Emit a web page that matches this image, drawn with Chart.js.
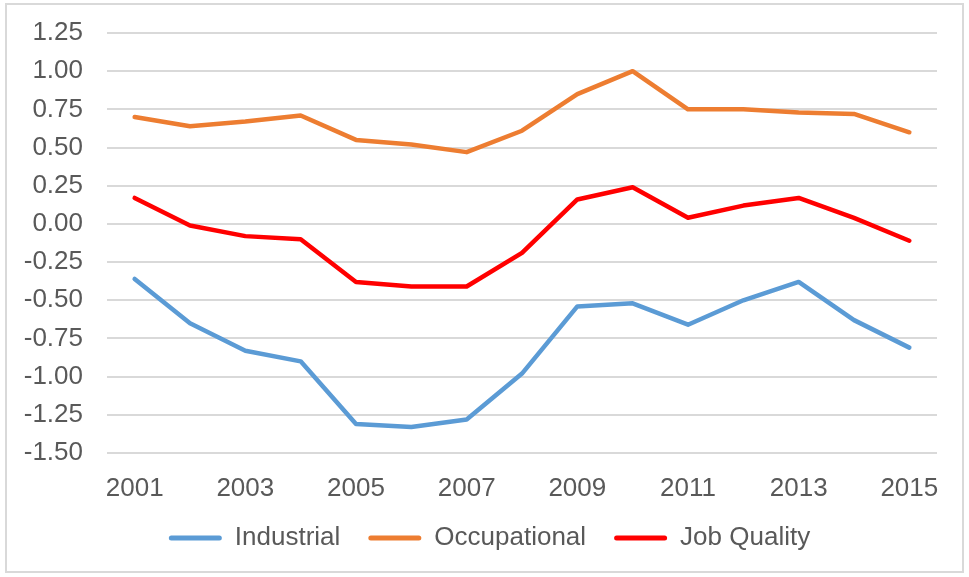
<!DOCTYPE html>
<html>
<head>
<meta charset="utf-8">
<script src="https://cdn.jsdelivr.net/npm/chart.js@4.4.1/dist/chart.umd.min.js"></script>
<style>
  html, body { margin: 0; padding: 0; background: #ffffff; }
  #wrap { position: relative; width: 969px; height: 577px; }
  #frame { position: absolute; left: 5px; top: 3px; width: 959px; height: 570px; border: 2px solid #d9d9d9; box-sizing: border-box; pointer-events: none; }
  canvas { position: absolute; left: 0; top: 0; }
</style>
</head>
<body>
<div id="wrap">
  <canvas id="c" width="969" height="577"></canvas>
  <div id="frame"></div>
</div>
<script>
const years = ['2001','2002','2003','2004','2005','2006','2007','2008','2009','2010','2011','2012','2013','2014','2015'];
const industrial   = [-0.36, -0.65, -0.83, -0.90, -1.31, -1.33, -1.28, -0.98, -0.54, -0.52, -0.66, -0.50, -0.38, -0.63, -0.81];
const occupational = [0.70, 0.64, 0.67, 0.71, 0.55, 0.52, 0.47, 0.61, 0.85, 1.00, 0.75, 0.75, 0.73, 0.72, 0.60];
const jobQuality   = [0.17, -0.01, -0.08, -0.10, -0.38, -0.41, -0.41, -0.19, 0.16, 0.24, 0.04, 0.12, 0.17, 0.04, -0.11];
const yMin = -1.5, yMax = 1.25, yStep = 0.25;

const FONT = { family: '"Liberation Sans", Arial, sans-serif', size: 26 };
const TXT = '#595959';

function ds(label, data, color) {
  return {
    label, data,
    borderColor: color, backgroundColor: color,
    borderWidth: 4.5, pointRadius: 0, pointHoverRadius: 0,
    tension: 0, borderCapStyle: 'round', borderJoinStyle: 'round', fill: false
  };
}

const legendShift = {
  id: 'legendShift',
  afterLayout(chart) {
    if (chart.legend) { chart.legend.left += 21; chart.legend.right += 21; }
  }
};

new Chart(document.getElementById('c'), {
  type: 'line',
  data: {
    labels: years,
    datasets: [
      ds('Industrial', industrial, '#5B9BD5'),
      ds('Occupational', occupational, '#ED7D31'),
      ds('Job Quality', jobQuality, '#FF0000')
    ]
  },
  plugins: [legendShift],
  options: {
    responsive: false,
    animation: false,
    layout: { autoPadding: false, padding: { left: 0, right: 32, top: 33, bottom: 16 } },
    plugins: {
      tooltip: { enabled: false },
      legend: {
        position: 'bottom',
        labels: {
          font: FONT, color: TXT,
          boxWidth: 53, boxHeight: 5, padding: 28,
          useBorderRadius: true, borderRadius: 2.5,
          generateLabels(chart) {
            const items = Chart.defaults.plugins.legend.labels.generateLabels(chart);
            items.forEach(it => { it.lineWidth = 0; it.strokeStyle = 'rgba(0,0,0,0)'; });
            return items;
          }
        }
      }
    },
    scales: {
      x: {
        offset: true,
        grid: { display: false, drawTicks: false },
        border: { display: false },
        ticks: {
          font: FONT, color: TXT, padding: 20,
          autoSkip: false, maxRotation: 0,
          callback(v, i) { return i % 2 === 0 ? years[i] : ''; }
        },
        afterFit(scale) { scale.height = 44; }
      },
      y: {
        min: yMin, max: yMax,
        grid: { color: '#d9d9d9', lineWidth: 2, drawTicks: false },
        border: { display: false },
        ticks: {
          stepSize: yStep, font: FONT, color: TXT, padding: 24,
          callback(v) { return Number(v).toFixed(2); }
        },
        afterFit(scale) { scale.width = 107; scale.paddingTop = 0; scale.paddingBottom = 0; }
      }
    }
  }
});
</script>
</body>
</html>
